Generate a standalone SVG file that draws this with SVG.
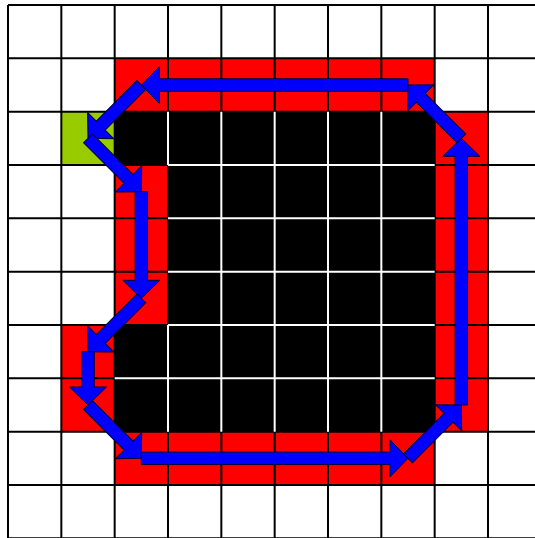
<svg xmlns="http://www.w3.org/2000/svg" width="535" height="538" viewBox="0 0 535 538">
<style>
.w{fill:#ffffff}
.r{fill:#ff0000}
.k{fill:#000000}
.g{fill:#99cc00}
.gl{stroke:#000000;stroke-width:2;fill:none}
.wl{stroke:#ffffff;stroke-width:2;fill:none}
.arr{fill:#0000ff;stroke:#000033;stroke-width:1;stroke-linejoin:miter}
</style>
<defs>
<polygon id="a266" points="0,-6.25 248.67,-6.25 248.67,-18.5 266.67,0 248.67,18.5 248.67,6.25 0,6.25"/>
<polygon id="a106" points="0,-6.25 88.67,-6.25 88.67,-18.5 106.67,0 88.67,18.5 88.67,6.25 0,6.25"/>
<polygon id="a75" points="0,-6.25 57.42,-6.25 57.42,-18.5 75.42,0 57.42,18.5 57.42,6.25 0,6.25"/>
<polygon id="a53" points="0,-6.25 35.33,-6.25 35.33,-18.5 53.33,0 35.33,18.5 35.33,6.25 0,6.25"/>
</defs>
<rect x="0" y="0" width="535" height="538" fill="#ffffff"/>
<g id="cells">
<!-- row 1 red cols 2-7 -->
<rect class="r" x="114.67" y="58.33" width="320" height="53.33"/>
<!-- row 2 -->
<rect id="start" class="g" x="61.33" y="111.67" width="53.33" height="53.33"/>
<rect class="k" x="114.67" y="111.67" width="320" height="53.33"/>
<rect class="r" x="434.67" y="111.67" width="53.33" height="320"/>
<!-- rows 3-5 -->
<rect class="r" x="114.67" y="165" width="53.33" height="160"/>
<rect class="k" x="168" y="165" width="266.67" height="160"/>
<!-- rows 6-7 -->
<rect class="r" x="61.33" y="325" width="53.33" height="106.67"/>
<rect class="k" x="114.67" y="325" width="320" height="106.67"/>
<!-- row 8 -->
<rect class="r" x="114.67" y="431.67" width="320" height="53.33"/>
</g>
<g id="grid" class="gl">
<path d="M8,5V538.33M61.33,5V538.33M114.67,5V538.33M168,5V538.33M221.33,5V538.33M274.67,5V538.33M328,5V538.33M381.33,5V538.33M434.67,5V538.33M488,5V538.33"/>
<path d="M8,5H541.33M8,58.33H541.33M8,111.67H541.33M8,165H541.33M8,218.33H541.33M8,271.67H541.33M8,325H541.33M8,378.33H541.33M8,431.67H541.33M8,485H541.33M8,538.33H541.33"/>
</g>
<g id="inner-grid" class="wl">
<path d="M168,111.67V165M168,325V431.67M221.33,111.67V431.67M274.67,111.67V431.67M328,111.67V431.67M381.33,111.67V431.67"/>
<path d="M168,165H434.67M168,218.33H434.67M168,271.67H434.67M168,325H434.67M114.67,378.33H434.67"/>
</g>
<g id="connectors">
<use href="#a266" class="arr" transform="translate(408,85) rotate(180)"/>
<use href="#a75" class="arr" transform="translate(141.33,85) rotate(135)"/>
<use href="#a75" class="arr" transform="translate(88,138.33) rotate(45)"/>
<use href="#a106" class="arr" transform="translate(141.33,191.67) rotate(90)"/>
<use href="#a75" class="arr" transform="translate(141.33,298.33) rotate(135)"/>
<use href="#a53" class="arr" transform="translate(88,351.67) rotate(90)"/>
<use href="#a75" class="arr" transform="translate(88,405) rotate(45)"/>
<use href="#a266" class="arr" transform="translate(141.33,458.33) rotate(0)"/>
<use href="#a75" class="arr" transform="translate(408,458.33) rotate(-45)"/>
<use href="#a266" class="arr" transform="translate(461.33,405) rotate(-90)"/>
<use href="#a75" class="arr" transform="translate(461.33,138.33) rotate(-135)"/>
</g>
</svg>
